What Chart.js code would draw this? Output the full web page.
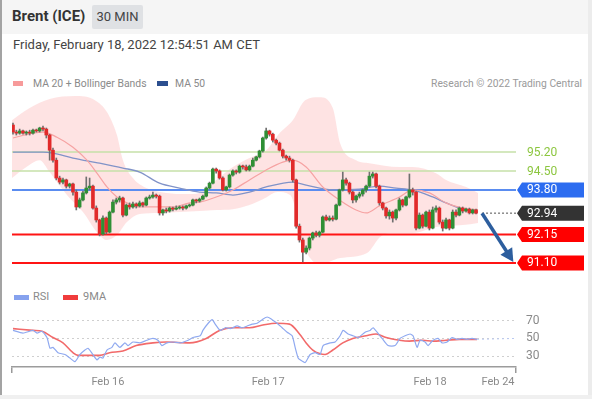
<!DOCTYPE html>
<html>
<head>
<meta charset="utf-8">
<script src="https://cdn.jsdelivr.net/npm/chart.js@4.4.0/dist/chart.umd.min.js"></script>
<style>
  body { margin: 0; width: 592px; height: 399px; overflow: hidden; background: #fff; font-family: Roboto, "Liberation Sans", sans-serif; position: relative; }
  .abs { position: absolute; }
  #leftEdge { left: 0; top: 0; width: 2px; height: 399px; background: #a3a3a3; }
  #rightEdge { left: 588px; top: 0; width: 4px; height: 399px; background: #ececec; }
  #bottomEdge { left: 0; top: 395px; width: 592px; height: 4px; background: #f0f0f0; }
  #header { left: 2px; top: 0; width: 586px; height: 34px; background: #f5f5f5; }
  #title { left: 12px; top: 7px; font-size: 15px; font-weight: bold; color: #333; }
  #badge { left: 92px; top: 5px; width: 51px; height: 24px; line-height: 24px; text-align: center; background: #dfe1e4; color: #444; font-size: 13px; border-radius: 2px; }
  #date { left: 13px; top: 37px; font-size: 13px; color: #444; }
  .legend { font-size: 10.4px; color: #8a8a8a; }
  .rsiLegend { font-size: 11px; color: #8a8a8a; }
  .swatch { height: 5px; }
  #credit { right: 10px; top: 77px; font-size: 10.3px; color: #9a9a9a; }
  canvas { position: absolute; left: 0; }
</style>
</head>
<body>
<div id="header" class="abs"></div>
<div id="leftEdge" class="abs"></div>
<div id="rightEdge" class="abs"></div>
<div id="bottomEdge" class="abs"></div>
<div id="title" class="abs">Brent (ICE)</div>
<div id="badge" class="abs">30 MIN</div>
<div id="date" class="abs">Friday, February 18, 2022 12:54:51 AM CET</div>

<div class="abs swatch" style="left:13px;top:81px;width:10px;background:#f79a9a"></div>
<div class="abs legend" style="left:33px;top:77px">MA 20 + Bollinger Bands</div>
<div class="abs swatch" style="left:157px;top:81px;width:11px;background:#2c4f8f"></div>
<div class="abs legend" style="left:175px;top:77px">MA 50</div>
<div id="credit" class="abs legend">Research © 2022 Trading Central</div>

<div class="abs swatch" style="left:14px;top:295px;width:15px;background:#86a2ee"></div>
<div class="abs rsiLegend" style="left:33px;top:290px">RSI</div>
<div class="abs swatch" style="left:63px;top:295px;width:15px;background:#f03c3c"></div>
<div class="abs rsiLegend" style="left:83px;top:290px">9MA</div>

<canvas id="main" width="592" height="185" style="top:95px"></canvas>
<canvas id="rsi" width="592" height="105" style="top:290px"></canvas>

<script>
// 30 min candles, index 0 = first bar on the left
const opens = [
  96.20, 95.94, 95.90, 95.98, 95.90, 95.94, 95.90, 96.01, 95.98, 96.09,
  96.05, 95.83, 95.27, 94.90, 94.24, 94.09, 94.17, 93.94, 94.02, 93.72,
  93.17, 93.43, 93.69, 93.87, 93.94, 93.13, 92.69, 92.17, 92.76, 92.24,
  92.98, 93.35, 93.43, 93.50, 92.87, 93.24, 93.17, 93.28, 93.21, 93.32,
  93.24, 93.50, 93.54, 93.61, 93.57, 92.95, 93.06, 93.02, 93.13, 93.09,
  93.13, 93.17, 93.13, 93.21, 93.24, 93.43, 93.39, 93.46, 93.57, 93.87,
  94.05, 94.57, 94.50, 94.24, 93.80, 93.91, 94.35, 94.50, 94.46, 94.68,
  94.65, 94.54, 94.68, 94.90, 95.02, 95.24, 95.72, 95.98, 95.86, 95.64,
  95.53, 95.27, 95.05, 94.98, 94.90, 94.17, 92.46, 91.95, 91.50, 91.65,
  92.02, 92.21, 92.13, 92.24, 92.80, 92.69, 92.76, 92.72, 93.24, 93.80,
  94.17, 94.05, 93.72, 93.43, 93.57, 93.65, 93.80, 93.94, 94.31, 94.39,
  93.94, 93.32, 93.13, 92.84, 92.98, 92.76, 93.06, 93.43, 93.24, 93.54,
  93.80, 93.72, 92.39, 92.87, 92.46, 92.98, 92.39, 93.06, 93.13, 92.61,
  92.39, 92.69, 92.39, 92.98, 92.87, 93.13, 93.02, 93.09, 92.95, 93.06
];
const highs = [
  96.27, 96.01, 96.05, 96.01, 95.98, 96.01, 96.05, 96.05, 96.12, 96.16,
  96.09, 95.86, 95.35, 94.98, 94.31, 94.24, 94.20, 94.05, 94.05, 93.80,
  93.50, 93.76, 94.28, 94.24, 93.98, 93.21, 92.72, 92.84, 92.80, 93.02,
  93.43, 93.50, 93.57, 93.54, 93.28, 93.32, 93.35, 93.32, 93.39, 93.35,
  93.54, 93.61, 93.72, 93.65, 93.61, 93.09, 93.13, 93.17, 93.17, 93.21,
  93.21, 93.21, 93.24, 93.28, 93.46, 93.46, 93.50, 93.61, 93.91, 94.09,
  94.61, 94.61, 94.54, 94.28, 93.94, 94.39, 94.54, 94.54, 94.72, 94.72,
  94.72, 94.72, 94.98, 95.05, 95.27, 95.75, 96.09, 96.01, 95.90, 95.68,
  95.57, 95.31, 95.09, 95.05, 94.94, 94.20, 92.54, 92.02, 91.73, 92.06,
  92.24, 92.28, 92.28, 92.84, 92.87, 92.84, 92.84, 93.28, 93.83, 94.46,
  94.24, 94.09, 93.76, 93.61, 93.72, 93.83, 93.98, 94.46, 94.46, 94.42,
  93.98, 93.35, 93.17, 93.06, 93.02, 93.09, 93.50, 93.46, 93.57, 94.39,
  93.87, 93.76, 92.95, 92.91, 93.02, 93.06, 93.17, 93.21, 93.17, 92.69,
  92.76, 92.72, 93.06, 93.06, 93.17, 93.17, 93.13, 93.13, 93.09, 93.09
];
const lows = [
  95.86, 95.83, 95.86, 95.86, 95.83, 95.83, 95.86, 95.94, 95.94, 95.98,
  95.72, 94.90, 94.83, 94.17, 94.02, 94.02, 93.87, 93.87, 93.61, 93.06,
  93.13, 93.39, 93.65, 93.80, 93.09, 92.61, 92.10, 92.13, 92.17, 92.21,
  92.95, 93.28, 93.35, 92.80, 92.84, 93.09, 93.13, 93.13, 93.17, 93.17,
  93.21, 93.46, 93.50, 93.50, 92.87, 92.87, 92.95, 92.98, 93.02, 93.06,
  93.09, 93.06, 93.09, 93.17, 93.21, 93.32, 93.35, 93.43, 93.54, 93.83,
  94.02, 94.42, 94.20, 93.76, 93.76, 93.87, 94.31, 94.39, 94.42, 94.57,
  94.50, 94.50, 94.65, 94.87, 94.98, 95.20, 95.68, 95.79, 95.57, 95.46,
  95.24, 94.98, 94.90, 94.83, 94.09, 92.39, 91.87, 91.14, 91.43, 91.58,
  91.95, 92.06, 92.06, 92.21, 92.65, 92.65, 92.65, 92.69, 93.21, 93.76,
  93.98, 93.65, 93.32, 93.35, 93.50, 93.57, 93.72, 93.91, 94.24, 93.87,
  93.24, 93.06, 92.76, 92.72, 92.61, 92.69, 93.02, 93.17, 93.21, 93.50,
  93.61, 92.32, 92.36, 92.39, 92.43, 92.32, 92.36, 92.98, 92.54, 92.28,
  92.36, 92.32, 92.36, 92.80, 92.84, 92.95, 92.98, 92.91, 92.91, 92.91
];
const closes = [
  95.94, 95.90, 95.98, 95.90, 95.94, 95.90, 96.01, 95.98, 96.09, 96.05,
  95.83, 95.27, 94.90, 94.24, 94.09, 94.17, 93.94, 94.02, 93.72, 93.17,
  93.43, 93.69, 93.87, 93.94, 93.13, 92.69, 92.17, 92.76, 92.24, 92.98,
  93.35, 93.43, 93.50, 92.87, 93.24, 93.17, 93.28, 93.21, 93.32, 93.24,
  93.50, 93.54, 93.61, 93.57, 92.95, 93.06, 93.02, 93.13, 93.09, 93.13,
  93.17, 93.13, 93.21, 93.24, 93.43, 93.39, 93.46, 93.57, 93.87, 94.05,
  94.57, 94.50, 94.24, 93.80, 93.91, 94.35, 94.50, 94.46, 94.68, 94.65,
  94.54, 94.68, 94.90, 95.02, 95.24, 95.72, 95.98, 95.86, 95.64, 95.53,
  95.27, 95.05, 94.98, 94.90, 94.17, 92.46, 91.95, 91.50, 91.65, 92.02,
  92.21, 92.13, 92.24, 92.80, 92.69, 92.76, 92.72, 93.24, 93.80, 94.17,
  94.05, 93.72, 93.43, 93.57, 93.65, 93.80, 93.94, 94.31, 94.39, 93.94,
  93.32, 93.13, 92.84, 92.98, 92.76, 93.06, 93.43, 93.24, 93.54, 93.80,
  93.72, 92.39, 92.87, 92.46, 92.98, 92.39, 93.06, 93.13, 92.61, 92.39,
  92.69, 92.39, 92.98, 92.87, 93.13, 93.02, 93.09, 92.95, 93.06, 92.94
];

// indicator curves as [bar index, value]
const ma20 = [
  [0, 95.72], [6, 95.90], [9, 95.94], [13.2, 95.75], [18, 95.38], [22.2, 94.90], [25.2, 94.42],
  [28.2, 93.91], [31.2, 93.54], [34.2, 93.32], [38, 93.17], [43, 93.17], [48, 93.17], [53, 93.32],
  [56, 93.35], [61, 93.54], [66, 93.80], [71, 94.17], [76, 94.54], [81, 94.83], [84, 94.90],
  [88, 94.65], [93, 93.91], [98, 93.43], [103, 93.06], [106, 92.95], [110, 93.21], [116, 93.54],
  [120, 93.80], [125, 93.69], [130, 93.32], [135, 93.13], [139.6, 93.06]
];
const ma50 = [
  [0, 95.20], [9, 95.20], [12, 95.16], [18, 94.98], [26, 94.79], [33, 94.61], [38, 94.46],
  [44, 94.05], [50, 93.87], [56, 93.72], [61, 93.69], [66, 93.61], [71, 93.72], [76, 93.91],
  [84, 94.09], [88, 93.98], [96, 93.80], [104, 93.83], [110, 93.94], [115, 93.87], [120, 93.80],
  [126, 93.54], [130, 93.32], [134, 93.13], [139.6, 92.98]
];
const bbUpper = [
  [-0.3, 96.38], [5, 96.83], [11, 97.16], [18.6, 97.27], [24.6, 97.12], [28.2, 96.68], [31.2, 95.83],
  [33, 94.90], [36, 94.24], [40, 93.87], [46, 93.69], [52, 93.65], [56, 93.69], [61, 94.17],
  [66, 94.65], [71, 94.98], [76, 95.27], [80, 95.90], [84, 96.38], [87.7, 97.12], [92, 97.23],
  [96, 96.83], [98.2, 95.53], [103, 94.90], [107, 94.79], [116, 94.65], [120, 94.65], [127, 94.42],
  [130, 94.17], [136, 93.91], [139.6, 93.69]
];
const bbLower = [
  [-0.3, 94.24], [3.6, 94.61], [8, 94.90], [11, 94.46], [16.2, 93.61], [21, 92.98], [25.2, 92.24],
  [28.2, 91.95], [31.2, 92.13], [34.2, 92.61], [38, 92.91], [44, 92.95], [50, 92.98], [56, 93.02],
  [61, 93.06], [66, 93.09], [71, 93.24], [75.7, 93.50], [79.3, 93.72], [83.2, 93.61], [85.3, 92.87],
  [86.8, 91.95], [89.2, 91.28], [92.2, 91.06], [98.2, 91.28], [106.3, 91.47], [110.2, 92.06],
  [113.2, 92.21], [120, 92.21], [127, 92.43], [135, 92.50], [139.6, 92.58]
];

const levelValues = [95.20, 94.50, 93.80, 92.94, 92.15, 91.10];
const levelKinds = ['target', 'target', 'pivot', 'last', 'support', 'support'];
const forecastX = [140.8, 150.2];
const forecastY = [92.94, 91.14];

const rsi = [
  [0, 59], [3, 56], [6, 59], [7.2, 56], [8.7, 58], [10.2, 51], [11.1, 39], [12, 40], [13.5, 34],
  [15.6, 32], [17.1, 28], [18.6, 24], [20.1, 32], [21.6, 37], [22.5, 39], [24, 32], [25.2, 26],
  [26.1, 29], [27, 28], [28.2, 37], [29.7, 40], [30.6, 45], [32.1, 40], [33.6, 45], [34.5, 42],
  [36, 46], [38.1, 45], [40.2, 48], [42, 50], [43.5, 48], [44.7, 42], [46.2, 45], [48, 46],
  [50.2, 45], [52.6, 48], [54, 51], [56.2, 53], [57, 59], [58.6, 67], [59.8, 71], [60.7, 66],
  [62.2, 59], [63.7, 62], [65.2, 61], [66, 62], [67.3, 64], [68.8, 62], [70.3, 64], [71.8, 66],
  [73.3, 67], [74.8, 71], [76.3, 74], [77.8, 71], [79.3, 67], [80.8, 62], [82.3, 57], [83.8, 53],
  [84.7, 40], [85.6, 28], [86.2, 26], [87.7, 23], [89.2, 32], [90.7, 34], [92.2, 32], [93.1, 42],
  [95.2, 45], [96.7, 46], [98.2, 53], [99.1, 59], [100.6, 55], [102.1, 53], [103.6, 51], [105.7, 57],
  [107.2, 59], [108.1, 62], [109.3, 57], [110.8, 50], [112.6, 42], [114.7, 42], [116.2, 50],
  [117.7, 53], [119.2, 55], [120.1, 53], [121.3, 40], [122.2, 48], [123.7, 46], [124.6, 42],
  [126.1, 48], [127.6, 50], [128.8, 45], [130.3, 46], [131.8, 51], [133.3, 49], [134.8, 50],
  [136.3, 49], [137.8, 50], [139.3, 49]
];
const rsiMa = [
  [0, 61], [6, 59], [8.7, 58], [12, 51], [15, 45], [18, 34], [19.5, 31], [23, 31], [26, 31],
  [29, 34], [33, 36], [37, 42], [42, 45], [46, 46], [53, 45], [58, 50], [62, 59], [66, 62],
  [71, 62], [75, 65], [79, 67], [83, 66], [86, 55], [88, 45], [90, 37], [92, 33], [93.7, 32],
  [96, 37], [99, 45], [102, 50], [106, 53], [109, 55], [112, 51], [116, 48], [119, 47],
  [123, 48], [126, 47], [130, 48], [134, 49], [139.3, 49]
];
const rsiTail = [[139.3, 49], [151, 50]];

const dayTicks = [-0.3, 28.5, 76.6, 125.2, 145.6, 151];
const dayLabels = ['', 'Feb 16', 'Feb 17', 'Feb 18', 'Feb 24', ''];

const X_MIN = -0.3, X_MAX = 151;

const toXY = arr => arr.map(p => ({ x: p[0], y: p[1] }));
const upColor = '#2f8f35', downColor = '#e12a2a';
const bodyColors = opens.map((o, i) => closes[i] >= o ? upColor : downColor);

const levelStyle = {
  target: { line: '#c6e1a8', width: 1.5, text: '#8cc63f' },
  pivot: { line: '#5a8cf0', width: 2, box: '#2c6cf0' },
  last: { line: '#8a8a8a', width: 1.5, box: '#333333', dash: [2, 2] },
  support: { line: '#ff1414', width: 2, box: '#ff0000' }
};

const levelSets = levelValues.map((v, i) => {
  const s = levelStyle[levelKinds[i]];
  const from = levelKinds[i] === 'last' ? forecastX[0] : X_MIN;
  return {
    type: 'line', data: [{ x: from, y: v }, { x: X_MAX, y: v }],
    borderColor: s.line, borderWidth: s.width, borderDash: s.dash || [],
    pointRadius: 0, order: 6
  };
});

const levelLabels = {
  id: 'levelLabels',
  afterDraw(chart) {
    const { ctx, chartArea, scales } = chart;
    ctx.save();
    ctx.font = '12px Roboto, sans-serif';
    ctx.textBaseline = 'middle';
    levelValues.forEach((v, i) => {
      const s = levelStyle[levelKinds[i]];
      const y = scales.y.getPixelForValue(v);
      const left = chartArea.right + 1;
      if (s.box) {
        ctx.fillStyle = s.box;
        ctx.beginPath();
        ctx.moveTo(left, y);
        ctx.lineTo(left + 5, y - 7.5);
        ctx.lineTo(584, y - 7.5);
        ctx.lineTo(584, y + 7.5);
        ctx.lineTo(left + 5, y + 7.5);
        ctx.closePath();
        ctx.fill();
        ctx.fillStyle = '#fff';
      } else {
        ctx.fillStyle = s.text;
      }
      ctx.fillText(v.toFixed(2), left + 10, y + 0.5);
    });
    ctx.restore();
  }
};

const forecastArrow = {
  id: 'forecastArrow',
  afterDatasetsDraw(chart) {
    const { ctx, scales: { x, y } } = chart;
    const x0 = x.getPixelForValue(forecastX[0]), y0 = y.getPixelForValue(forecastY[0]);
    const x1 = x.getPixelForValue(forecastX[1]), y1 = y.getPixelForValue(forecastY[1]);
    const a = Math.atan2(y1 - y0, x1 - x0);
    const c = Math.cos(a), s = Math.sin(a);
    ctx.save();
    ctx.strokeStyle = ctx.fillStyle = '#2d5e9e';
    ctx.lineWidth = 3.5;
    ctx.beginPath();
    ctx.moveTo(x0, y0);
    ctx.lineTo(x1 - 10 * c, y1 - 10 * s);
    ctx.stroke();
    ctx.beginPath();
    ctx.moveTo(x1, y1);
    ctx.lineTo(x1 - 13 * c + 7 * s, y1 - 13 * s - 7 * c);
    ctx.lineTo(x1 - 13 * c - 7 * s, y1 - 13 * s + 7 * c);
    ctx.closePath();
    ctx.fill();
    ctx.restore();
  }
};

new Chart(document.getElementById('main'), {
  type: 'bar',
  data: {
    datasets: [
      { type: 'line', data: toXY(bbUpper), borderWidth: 0, pointRadius: 0, fill: '+1',
        backgroundColor: 'rgba(250, 90, 90, 0.17)', cubicInterpolationMode: 'monotone', order: 10 },
      { type: 'line', data: toXY(bbLower), borderWidth: 0, pointRadius: 0, fill: false,
        cubicInterpolationMode: 'monotone', order: 10 },
      ...levelSets,
      { type: 'line', data: toXY(ma20), borderColor: '#f6a3a3', borderWidth: 1.2, pointRadius: 0,
        cubicInterpolationMode: 'monotone', order: 5 },
      { type: 'line', data: toXY(ma50), borderColor: '#8193c8', borderWidth: 1.3, pointRadius: 0,
        cubicInterpolationMode: 'monotone', order: 5 },
      { data: lows.map((l, i) => ({ x: i, y: [l, highs[i]] })), backgroundColor: '#707070',
        barThickness: 1, grouped: false, order: 2 },
      { data: opens.map((o, i) => ({ x: i, y: [o, closes[i]] })), backgroundColor: bodyColors,
        barThickness: 3, minBarLength: 1, grouped: false, order: 1 }
    ]
  },
  options: {
    responsive: false,
    animation: false,
    layout: { padding: { left: 12, right: 76, top: 0, bottom: 0 } },
    plugins: { legend: { display: false }, tooltip: { enabled: false } },
    scales: {
      x: { type: 'linear', min: X_MIN, max: X_MAX, offset: false, display: false },
      y: { min: 90.47, max: 97.31, display: false }
    }
  },
  plugins: [forecastArrow, levelLabels]
});

new Chart(document.getElementById('rsi'), {
  type: 'line',
  data: {
    datasets: [
      { data: toXY(rsi), borderColor: '#8fa9f0', borderWidth: 1.2, pointRadius: 0, tension: 0.2 },
      { data: toXY(rsiMa), borderColor: '#f26a6a', borderWidth: 1.6, pointRadius: 0,
        cubicInterpolationMode: 'monotone' },
      { data: toXY(rsiTail), borderColor: '#b9c9f3', borderWidth: 1, borderDash: [2, 3], pointRadius: 0 }
    ]
  },
  options: {
    responsive: false,
    animation: false,
    layout: { padding: { left: 12, right: 0, top: 15, bottom: 0 } },
    plugins: { legend: { display: false }, tooltip: { enabled: false } },
    scales: {
      x: {
        type: 'linear', min: X_MIN, max: X_MAX, offset: false,
        afterBuildTicks: s => { s.ticks = dayTicks.map(v => ({ value: v })); },
        afterFit: s => { s.height = 28; },
        ticks: {
          autoSkip: false, maxRotation: 0, color: '#8a8a8a', padding: 3,
          font: { size: 11, family: 'Roboto' },
          callback: (v, i) => dayLabels[i]
        },
        grid: {
          drawOnChartArea: false, tickLength: 6, lineWidth: 1.5,
          color: c => (c.index === 0 || c.index === dayTicks.length - 1) ? '#999' : 'rgba(0,0,0,0)'
        },
        border: { color: '#9c9c9c', width: 1.5 }
      },
      y: {
        position: 'right', min: 18, max: 85,
        afterBuildTicks: s => { s.ticks = [30, 50, 70].map(v => ({ value: v })); },
        afterFit: s => { s.width = 76; },
        ticks: { color: '#8a8a8a', padding: 10, font: { size: 12, family: 'Roboto' } },
        grid: { color: '#cfcfcf', drawTicks: false },
        border: { display: false, dash: [2, 3] }
      }
    }
  }
});
</script>
</body>
</html>
